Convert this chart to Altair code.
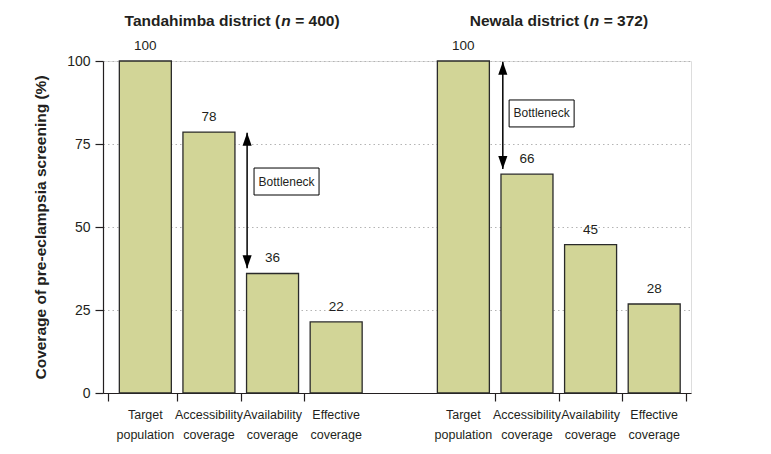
import altair as alt
import pandas as pd

# ---- data ----
districts = ["Tandahimba district (", "Newala district ("]
district_n_text = ["= 400)", "= 372)"]
stages = ["Target\npopulation", "Accessibility\ncoverage", "Availability\ncoverage", "Effective\ncoverage"]
tandahimba_bar = [100, 78.6, 36.0, 21.4]
tandahimba_label = ["100", "78", "36", "22"]
newala_bar = [100, 65.9, 44.7, 26.8]
newala_label = ["100", "66", "45", "28"]
# slot positions on the x scale (one empty slot between the two districts)
tandahimba_slot = [0.5, 1.5, 2.5, 3.5]
newala_slot = [5.5, 6.5, 7.5, 8.5]
slot_boundaries = [-0.087, 1, 2, 3, 6, 7, 8, 9]
title_anchor = [2.62, 7.47]
title_level = [110.5, 110.5]
# bottleneck annotations
arrow_x = [2.1, 6.12]
arrow_top = [78.4, 99.8]
arrow_bottom = [37.6, 67.5]
box_x = [2.72, 6.73]
box_y = [63.7, 84.2]
y_ticks = [0, 25, 50, 75, 100]

FONT = "Liberation Sans, Arial, sans-serif"
INK = "#231f20"
BAR = "#d2d597"

bars = pd.DataFrame({
    "x": tandahimba_slot + newala_slot,
    "y": tandahimba_bar + newala_bar,
    "label": tandahimba_label + newala_label,
    "stage": stages + stages,
})
titles = pd.DataFrame({"x": title_anchor, "y": title_level,
                       "left": districts, "right": district_n_text, "n": ["n", "n"]})
arrows = pd.DataFrame({"x": arrow_x, "y": arrow_top, "y2": arrow_bottom})
boxes = pd.DataFrame({"x": box_x, "y": box_y, "t": ["Bottleneck"] * 2})
baseline_df = pd.DataFrame({"x": tandahimba_slot + newala_slot, "y": [0] * 8, "stage": stages + stages})

xscale = alt.Scale(domain=[-0.087, 9.0], nice=False, zero=False)
yscale = alt.Scale(domain=[0, 100], nice=False)
xaxis = alt.Axis(values=slot_boundaries, labels=False, title=None, grid=False,
                 tickSize=8, domainColor=INK, tickColor=INK, domainWidth=1.2, tickWidth=1.2)
yaxis = alt.Axis(values=y_ticks, title="Coverage of pre-eclampsia screening (%)",
                 grid=True, gridDash=[1.5, 3], gridColor="#b4b4b4", gridWidth=1,
                 tickSize=8, tickColor=INK, domainColor=INK, domainWidth=1.2, tickWidth=1.2,
                 labelFont=FONT, labelFontSize=14, labelColor=INK, labelPadding=5,
                 titleFont=FONT, titleFontSize=15.5, titleFontWeight="bold", titleColor=INK,
                 titlePadding=18)

X = alt.X("x:Q", scale=xscale, axis=xaxis)
Y = alt.Y("y:Q", scale=yscale, axis=yaxis)

bar_layer = alt.Chart(bars).mark_bar(orient="vertical", size=52, fill=BAR, stroke="#2a2a2a",
                                     strokeWidth=1.3).encode(x=X, y=Y)
value_layer = alt.Chart(bars).mark_text(font=FONT, fontSize=13.5, color=INK, dy=-11,
                                        baseline="alphabetic").encode(x=X, y=Y, text="label:N")
stage_layer = alt.Chart(baseline_df).mark_text(font=FONT, fontSize=12.5, color=INK, dy=16,
                                               baseline="top", lineBreak="\n",
                                               lineHeight=20).encode(x=X, y=Y, text="stage:N")

TS = 15.5
t_left = alt.Chart(titles).mark_text(font=FONT, fontSize=TS, fontWeight="bold", color=INK,
                                     align="right", baseline="alphabetic").encode(x=X, y=Y, text="left:N")
t_n = alt.Chart(titles).mark_text(font=FONT, fontSize=TS, fontWeight="bold", fontStyle="italic",
                                  color=INK, align="left", dx=1,
                                  baseline="alphabetic").encode(x=X, y=Y, text="n:N")
t_right = alt.Chart(titles).mark_text(font=FONT, fontSize=TS, fontWeight="bold", color=INK,
                                      align="left", dx=15,
                                      baseline="alphabetic").encode(x=X, y=Y, text="right:N")

arrow_line = alt.Chart(arrows).mark_rule(color="black", strokeWidth=1.5).encode(
    x=X, y=Y, y2="y2:Q")
head_up = alt.Chart(arrows).mark_point(shape="M0,0L0.7,2L-0.7,2Z", size=169, filled=True,
                                       color="black", opacity=1).encode(x=X, y=Y)
head_down = alt.Chart(arrows).mark_point(shape="M0,0L0.7,-2L-0.7,-2Z", size=169, filled=True,
                                         color="black", opacity=1).encode(
    x=X, y=alt.Y("y2:Q", scale=yscale, axis=yaxis))
box_layer = alt.Chart(boxes).mark_point(shape="M-1,-0.415H1V0.415H-1Z", size=4225, filled=True,
                                        fill="white", stroke="black", strokeWidth=1,
                                        opacity=1).encode(x=X, y=Y)
box_text = alt.Chart(boxes).mark_text(font=FONT, fontSize=12, color=INK,
                                      baseline="middle").encode(x=X, y=Y, text="t:N")

chart = alt.layer(bar_layer, value_layer, stage_layer, t_left, t_n, t_right,
                  arrow_line, head_up, head_down, box_layer, box_text).properties(
    width=588, height=332,
    padding={"left": 95, "top": 53, "right": 60, "bottom": 61},
    autosize=alt.AutoSizeParams(type="none"),
).configure_view(stroke=None).configure(background="white")

chart.save("out.html", embed_options={"renderer": "svg", "actions": False})
